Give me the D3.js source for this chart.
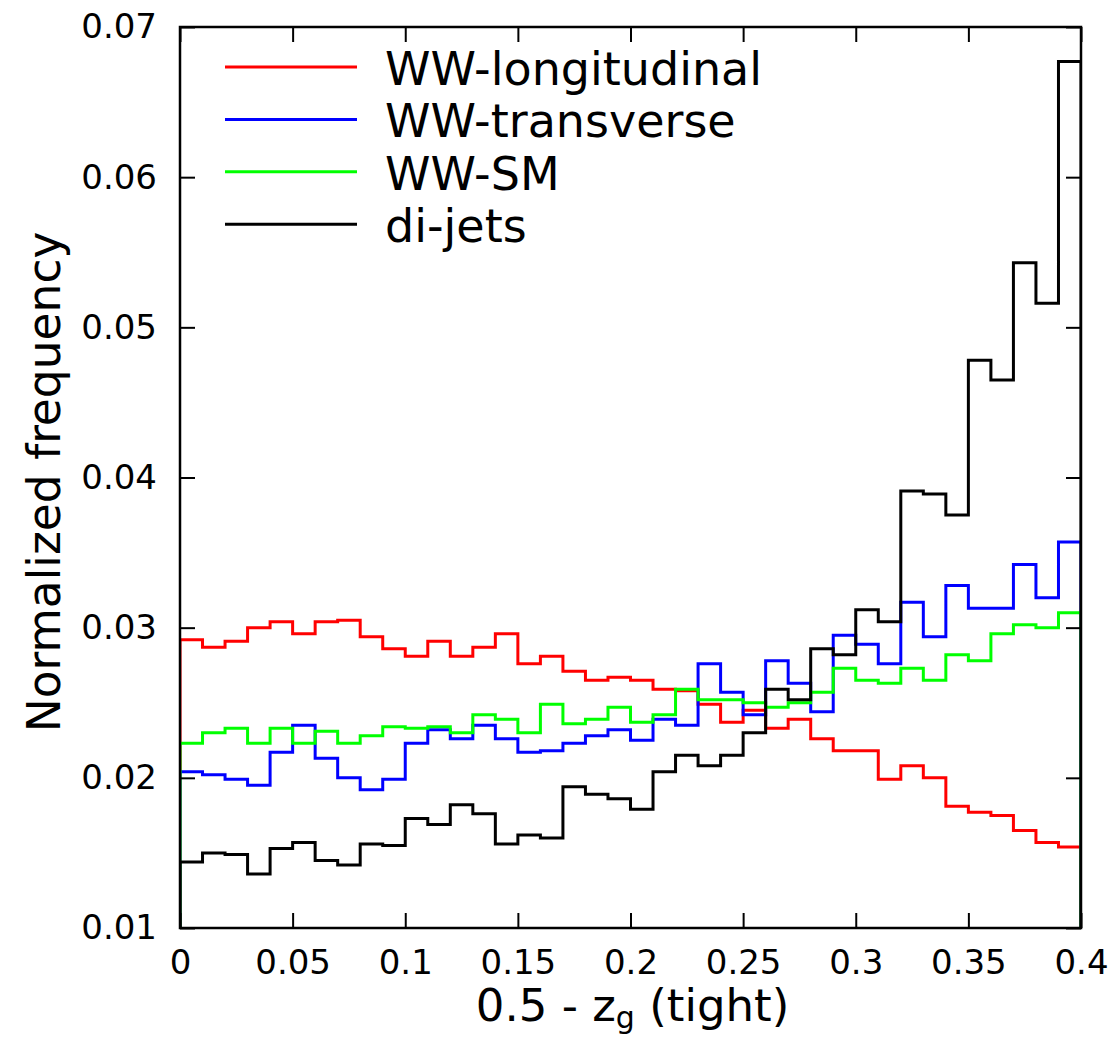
<html>
    <head>
        <title>zg histogram</title>
        <script src="https://d3js.org/d3.v7.min.js"></script>
        <style>
            body { margin: 0; }
        </style>
    </head>
    <body>
        <svg id="graph" width="1119" height="1037"></svg>
        <script>
            // 40 bins of width 0.01 over 0 .. 0.4
            const binWidth = 0.01;
            const nBins = 40;

            const seriesNames = ["WW-longitudinal", "WW-transverse", "WW-SM", "di-jets"];
            const seriesColors = ["#ff0000", "#0000ff", "#00ff00", "#000000"];

            const longitudinal = [0.0292, 0.0287, 0.0291, 0.0300, 0.0304, 0.0296, 0.0304, 0.0305, 0.0294, 0.0286,
                                  0.0281, 0.0291, 0.0281, 0.0287, 0.0296, 0.0276, 0.0281, 0.0271, 0.0265, 0.0267,
                                  0.0265, 0.0259, 0.0258, 0.0249, 0.0237, 0.0245, 0.0233, 0.0239, 0.0226, 0.0218,
                                  0.0218, 0.0199, 0.0208, 0.0200, 0.0181, 0.0177, 0.0175, 0.0165, 0.0157, 0.0154];
            const transverse   = [0.0204, 0.0202, 0.0199, 0.0195, 0.0217, 0.0235, 0.0213, 0.0200, 0.0192, 0.0199,
                                  0.0223, 0.0232, 0.0226, 0.0235, 0.0226, 0.0217, 0.0218, 0.0223, 0.0228, 0.0232,
                                  0.0225, 0.0239, 0.0235, 0.0276, 0.0257, 0.0242, 0.0278, 0.0263, 0.0244, 0.0295,
                                  0.0289, 0.0276, 0.0317, 0.0294, 0.0328, 0.0313, 0.0313, 0.0342, 0.0320, 0.0357];
            const wwSM         = [0.0223, 0.0230, 0.0233, 0.0223, 0.0233, 0.0223, 0.0231, 0.0223, 0.0228, 0.0234,
                                  0.0233, 0.0234, 0.0230, 0.0242, 0.0239, 0.0230, 0.0249, 0.0236, 0.0239, 0.0247,
                                  0.0237, 0.0242, 0.0259, 0.0252, 0.0252, 0.0250, 0.0247, 0.0250, 0.0257, 0.0273,
                                  0.0265, 0.0263, 0.0273, 0.0265, 0.0282, 0.0278, 0.0296, 0.0302, 0.0300, 0.0310];
            const diJets       = [0.0144, 0.0150, 0.0149, 0.0136, 0.0153, 0.0157, 0.0145, 0.0142, 0.0156, 0.0155,
                                  0.0173, 0.0169, 0.0182, 0.0176, 0.0156, 0.0162, 0.0160, 0.0194, 0.0189, 0.0186,
                                  0.0179, 0.0204, 0.0215, 0.0208, 0.0215, 0.0230, 0.0259, 0.0252, 0.0286, 0.0282,
                                  0.0312, 0.0304, 0.0391, 0.0389, 0.0375, 0.0478, 0.0465, 0.0543, 0.0516, 0.0677];

            const seriesValues = [longitudinal, transverse, wwSM, diJets];

            const xTicks = [0, 0.05, 0.1, 0.15, 0.2, 0.25, 0.3, 0.35, 0.4];
            const yTicks = [0.01, 0.02, 0.03, 0.04, 0.05, 0.06, 0.07];

            const svg = d3.select("#graph");
            const pLeft = 180, pRight = 1081, pTop = 27, pBottom = 928;
            const font = "DejaVu Sans";

            const x = d3.scaleLinear().domain([0, 0.4]).range([pLeft, pRight]);
            const y = d3.scaleLinear().domain([0.01, 0.07]).range([pBottom, pTop]);

            svg.append("rect").attr("width", 1119).attr("height", 1037).attr("fill", "#fff");

            svg.append("clipPath").attr("id", "plotclip")
               .append("rect")
               .attr("x", pLeft).attr("y", pTop)
               .attr("width", pRight - pLeft).attr("height", pBottom - pTop);

            // step outline of each histogram, closed down to the baseline at both ends
            const step = d3.line()
                           .x(d => x(d[0]))
                           .y(d => y(d[1]))
                           .curve(d3.curveStepAfter);

            const base = y.domain()[0];
            const layer = svg.append("g").attr("clip-path", "url(#plotclip)");
            seriesValues.forEach((vals, k) => {
                let pts = [[0, base]];
                vals.forEach((v, i) => pts.push([i * binWidth, v]));
                pts.push([nBins * binWidth, vals[vals.length - 1]]);
                pts.push([nBins * binWidth, base]);
                layer.append("path")
                     .attr("d", step(pts))
                     .attr("fill", "none")
                     .attr("stroke", seriesColors[k])
                     .attr("stroke-width", 3);
            });

            // axes: ticks point inward on all four sides
            const fmt = d => d === 0 ? "0" : String(+d.toFixed(2));

            const xAxis = svg.append("g")
                             .attr("transform", `translate(0,${pBottom})`)
                             .call(d3.axisBottom(x).tickValues(xTicks).tickFormat(fmt)
                                     .tickSize(-15).tickPadding(22));
            const yAxis = svg.append("g")
                             .attr("transform", `translate(${pLeft},0)`)
                             .call(d3.axisLeft(y).tickValues(yTicks).tickFormat(fmt)
                                     .tickSize(-15).tickPadding(23));
            const xTop = svg.append("g")
                            .attr("transform", `translate(0,${pTop})`)
                            .call(d3.axisTop(x).tickValues(xTicks).tickFormat("").tickSize(-15));
            const yRight = svg.append("g")
                              .attr("transform", `translate(${pRight},0)`)
                              .call(d3.axisRight(y).tickValues(yTicks).tickFormat("").tickSize(-15));

            [xAxis, yAxis, xTop, yRight].forEach(a => {
                a.select(".domain").remove();
                a.selectAll(".tick line").attr("stroke", "#000").attr("stroke-width", 2);
                a.selectAll(".tick text").attr("fill", "#000")
                 .style("font-family", font).style("font-size", "34px");
            });

            svg.append("rect")
               .attr("x", pLeft).attr("y", pTop)
               .attr("width", pRight - pLeft).attr("height", pBottom - pTop)
               .attr("fill", "none").attr("stroke", "#000").attr("stroke-width", 2.5);

            // axis titles
            const xLabel = svg.append("text")
                              .attr("x", (pLeft + pRight) / 2 + 2).attr("y", 1021)
                              .attr("text-anchor", "middle")
                              .style("font-family", font).style("font-size", "45px");
            xLabel.append("tspan").text("0.5 - z");
            xLabel.append("tspan").text("g").attr("dy", 7).style("font-size", "30px");
            xLabel.append("tspan").text(" (tight)").attr("dy", -7);

            svg.append("text")
               .attr("transform", "translate(60,482) rotate(-90)")
               .attr("text-anchor", "middle")
               .style("font-family", font).style("font-size", "45.5px")
               .text("Normalized frequency");

            // legend
            const legend = svg.append("g");
            seriesNames.forEach((name, k) => {
                const ly = 67 + k * 52.4;
                legend.append("line")
                      .attr("x1", 225).attr("x2", 357)
                      .attr("y1", ly).attr("y2", ly)
                      .attr("stroke", seriesColors[k]).attr("stroke-width", 3);
                legend.append("text")
                      .attr("x", 385).attr("y", ly + 18)
                      .style("font-family", font).style("font-size", "46px")
                      .text(name);
            });
        </script>
    </body>
</html>
